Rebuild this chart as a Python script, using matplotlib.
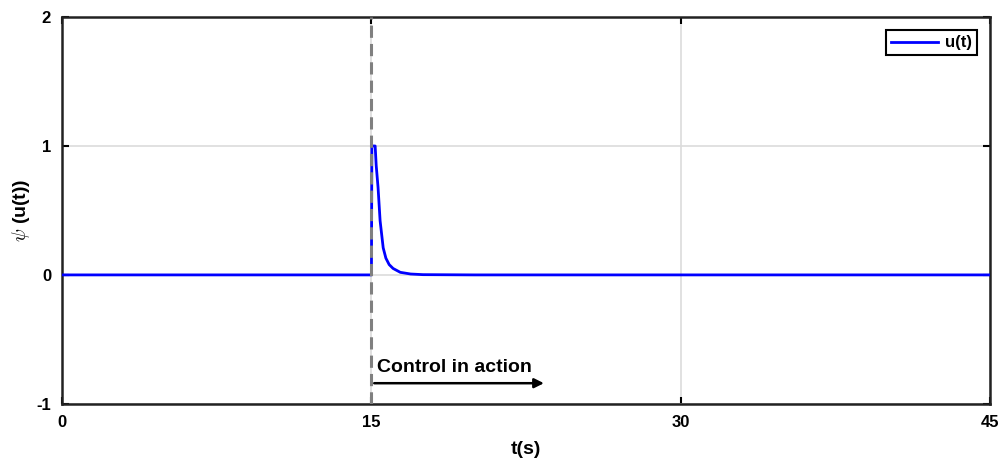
import matplotlib
matplotlib.use('Agg')
import matplotlib.pyplot as plt

# values
t = [0, 15.0, 15.02, 15.18, 15.23, 15.32, 15.42, 15.57, 15.7, 15.86, 16.05, 16.4, 16.9, 17.5, 20, 30, 45]
u = [0, 0, 1.0, 1.0, 0.85, 0.68, 0.42, 0.21, 0.13, 0.08, 0.05, 0.02, 0.007, 0.002, 0, 0, 0]

xticks = [0, 15, 30, 45]
yticks = [-1, 0, 1, 2]
t_switch = 15
arrow_end = 23.5

plt.rcParams['font.family'] = ['Liberation Sans', 'DejaVu Sans']
plt.rcParams['font.weight'] = 'bold'
plt.rcParams['axes.unicode_minus'] = False
plt.rcParams['mathtext.fontset'] = 'cm'

fig = plt.figure(figsize=(10.03, 4.61), dpi=100, facecolor='white')
ax = fig.add_axes([0.062, 0.124, 0.925, 0.839])

ax.plot(t, u, color='#0000ff', lw=2, label='u(t)', zorder=3)
ax.axvline(t_switch, color='#808080', ls='--', lw=2.2, dashes=(4, 2), zorder=4)
ax.annotate('', xy=(arrow_end, -0.84), xytext=(t_switch, -0.84),
            arrowprops=dict(arrowstyle='-|>', color='black', lw=1.8, mutation_scale=14))
ax.text(t_switch + 0.25, -0.72, 'Control in action', fontsize=14, fontweight='bold', va='center')

ax.set_xlim(0, 45)
ax.set_ylim(-1, 2)
ax.set_xticks(xticks)
ax.set_yticks(yticks)
ax.grid(True, color='#dcdcdc', lw=1.2)
ax.set_axisbelow(True)
ax.tick_params(direction='in', length=5, width=1.5, labelsize=12, top=True, right=True, pad=8)
for s in ax.spines.values():
    s.set_linewidth(1.8)
    s.set_color('#222222')

ax.set_xlabel('t(s)', fontsize=14, fontweight='bold', labelpad=8)
ax.set_ylabel(r'$\psi$ (u(t))', fontsize=14, fontweight='bold', labelpad=3)

leg = ax.legend(loc='upper right', fontsize=12, fancybox=False, framealpha=1,
                edgecolor='black', handlelength=2.8, borderpad=0.3, handletextpad=0.4,
                borderaxespad=0.8)
leg.get_frame().set_linewidth(1.5)

fig.savefig('out.png', dpi=100)
